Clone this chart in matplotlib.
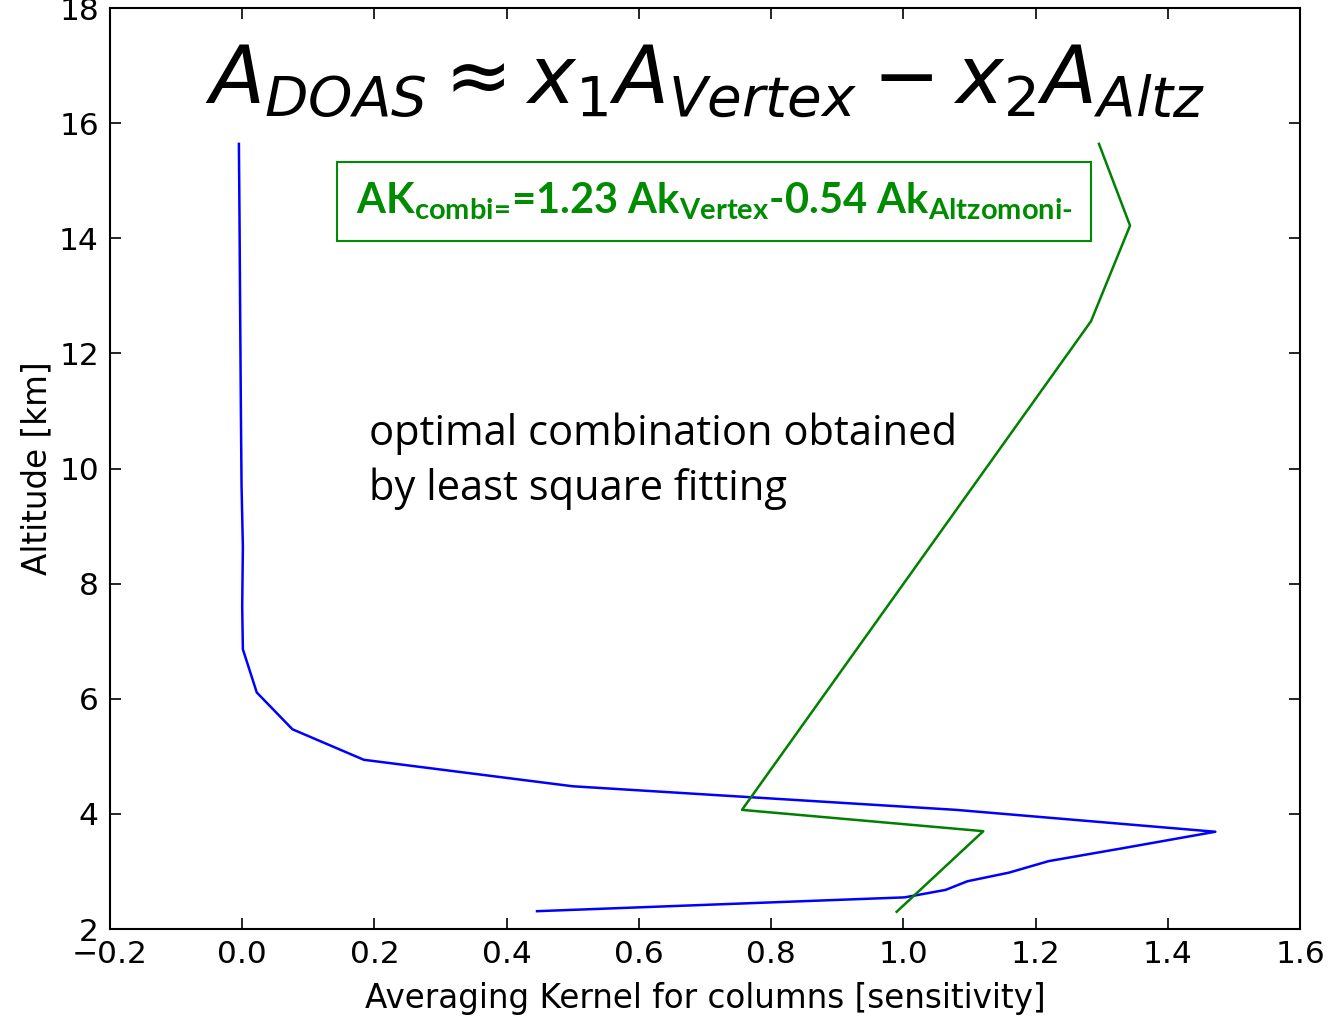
import numpy as np
import matplotlib
matplotlib.use("Agg")
from matplotlib import pyplot as plt

# averaging kernel profiles
alt_doas = [15.64, 14.22, 12.56, 11.0, 9.7, 8.64, 7.6, 6.86, 6.11, 5.47, 4.94,
            4.48, 4.07, 3.69, 3.40, 3.18, 2.98, 2.83, 2.68, 2.55, 2.31]
ak_doas = [-0.005, -0.004, -0.003, -0.002, -0.001, 0.001, 0.0, 0.001, 0.022,
           0.076, 0.184, 0.50, 1.08, 1.472, 1.33, 1.22, 1.16, 1.097, 1.064,
           1.002, 0.446]

alt_combi = [15.64, 14.22, 12.56, 4.07, 3.70, 2.30]
ak_combi = [1.296, 1.343, 1.284, 0.756, 1.121, 0.990]

plt.rcParams['font.family'] = 'DejaVu Sans'
plt.rcParams['mathtext.fontset'] = 'custom'
plt.rcParams['mathtext.bf'] = 'Lato:bold'
plt.rcParams['mathtext.rm'] = 'Lato:bold'

fig = plt.figure(figsize=(13.3, 10.16), dpi=100)
ax = fig.add_axes([0.0827, 0.0856, 0.8947, 0.9065])

ax.plot(ak_doas, alt_doas, color='b', lw=1.8)
ax.plot(ak_combi, alt_combi, color='g', lw=1.8)

ax.set_xlim(-0.2, 1.6)
ax.set_ylim(2, 18)
ax.set_xticks(np.arange(-0.2, 1.61, 0.2))
ax.set_yticks(np.arange(2, 19, 2))
ax.tick_params(direction='in', top=True, right=True, length=8, width=1.2,
               labelsize=22.5, pad=8)
for s in ax.spines.values():
    s.set_linewidth(1.5)

ax.set_xlabel("Averaging Kernel for columns [sensitivity]", fontsize=23.5,
              labelpad=9)
ax.set_ylabel("Altitude [km]", fontsize=23.5, labelpad=4)

# equation on top
ax.text(0.5, 0.92, r"$A_{DOAS} \approx x_1 A_{Vertex} - x_2 A_{Altz}$",
        transform=ax.transAxes, ha='center', va='center', fontsize=58,
        math_fontfamily='dejavusans')

# green box with the fitted combination
ax.text(0.5076, 0.79,
        r"$\text{AK}_{\text{combi=}}\text{=1.23 Ak}_{\text{Vertex}}"
        r"\text{-0.54 Ak}_{\text{Altzomoni-}}$",
        transform=ax.transAxes, ha='center', va='center', fontsize=30,
        color='#008c00', math_fontfamily='custom',
        bbox=dict(boxstyle='square,pad=0.45', fc='white', ec='#008c00', lw=1.5))

ax.text(0.218, 0.561, "optimal combination obtained\nby least square fitting",
        transform=ax.transAxes, ha='left', va='top', fontsize=30,
        family='Open Sans', linespacing=1.4)

fig.savefig("out.png", dpi=100)
